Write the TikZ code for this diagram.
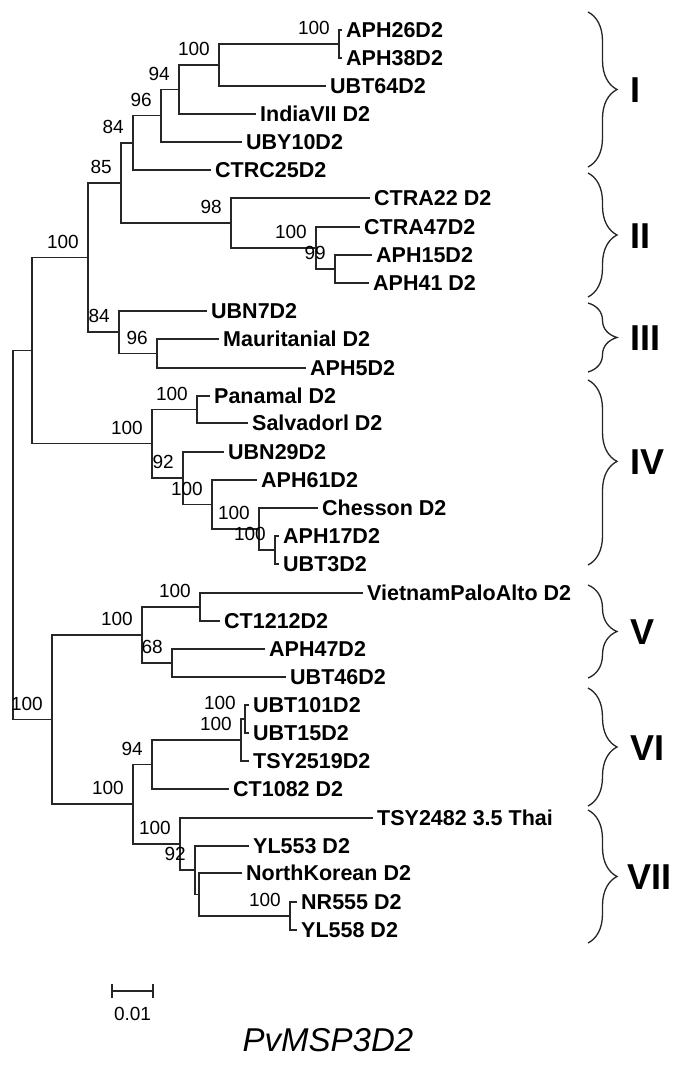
\documentclass[tikz,border=0pt]{standalone}
\usepackage{fontspec}
\setmainfont{Liberation Sans}
\usetikzlibrary{decorations.pathreplacing}
\begin{document}
\begin{tikzpicture}[x=1pt,y=-1pt,
  br/.style={line width=1.3pt, draw=black!85},
  leaf/.style={anchor=west, inner xsep=4pt, inner ysep=0pt, text height=15.5pt, text depth=0pt,
               font=\fontsize{21.5}{24}\selectfont\bfseries},
  bs/.style={anchor=east, inner sep=0pt, text height=13.6pt, text depth=0pt,
             font=\fontsize{19}{22}\selectfont},
  cladelab/.style={anchor=west, inner sep=0pt, text height=26pt, text depth=0pt,
             font=\fontsize{36}{40}\selectfont\bfseries},
  brc/.style={decorate, decoration={brace, amplitude=29pt}, line width=1.3pt, draw=black!85}]
\fill[white] (0,0) rectangle (673,1065);
\useasboundingbox (0,0) rectangle (673,1065);

% internal nodes
\coordinate (A) at (339,44);
\coordinate (B) at (219,65);
\coordinate (C) at (179,89.5);
\coordinate (D) at (161,115.75);
\coordinate (E) at (133,143);
\coordinate (J) at (335,269);
\coordinate (H) at (316,248);
\coordinate (G) at (231,223);
\coordinate (F) at (121,183);
\coordinate (M) at (157,353.5);
\coordinate (L) at (119,332);
\coordinate (K) at (88,257.5);
\coordinate (V) at (275,550);
\coordinate (U) at (259,529);
\coordinate (T) at (212,504.5);
\coordinate (S) at (183,478);
\coordinate (R) at (197,409.5);
\coordinate (Q) at (152,443.75);
\coordinate (P) at (32,350.6);
\coordinate (Y) at (200,607);
\coordinate (Z) at (172,663);
\coordinate (X) at (142,635);
\coordinate (AD) at (245,719);
\coordinate (AC) at (241,740);
\coordinate (AB) at (152,764.5);
\coordinate (AH) at (290,916);
\coordinate (AG) at (199,894.5);
\coordinate (AF) at (195,870);
\coordinate (AE) at (180,844);
\coordinate (AA) at (133,804);
\coordinate (W) at (52,719.5);
\coordinate (Root) at (13,535);

% leaves
\node[leaf] (l0) at (342,30) {APH26D2};
\node[leaf] (l1) at (342,58) {APH38D2};
\node[leaf] (l2) at (326,86) {UBT64D2};
\node[leaf] (l3) at (256,114) {IndiaVII D2};
\node[leaf] (l4) at (242,142) {UBY10D2};
\node[leaf] (l5) at (211,170) {CTRC25D2};
\node[leaf] (l6) at (370,198) {CTRA22 D2};
\node[leaf] (l7) at (360,227) {CTRA47D2};
\node[leaf] (l8) at (372,255) {APH15D2};
\node[leaf] (l9) at (369,283) {APH41 D2};
\node[leaf] (l10) at (207,311) {UBN7D2};
\node[leaf] (l11) at (219,339) {Mauritanial D2};
\node[leaf] (l12) at (306,368) {APH5D2};
\node[leaf] (l13) at (210,396) {Panamal D2};
\node[leaf] (l14) at (248,423) {Salvadorl D2};
\node[leaf] (l15) at (224,452) {UBN29D2};
\node[leaf] (l16) at (257,480) {APH61D2};
\node[leaf] (l17) at (318,508) {Chesson D2};
\node[leaf] (l18) at (279,536) {APH17D2};
\node[leaf] (l19) at (279,564) {UBT3D2};
\node[leaf] (l20) at (363,593) {VietnamPaloAlto D2};
\node[leaf] (l21) at (220,621) {CT1212D2};
\node[leaf] (l22) at (265,649) {APH47D2};
\node[leaf] (l23) at (286,677) {UBT46D2};
\node[leaf] (l24) at (249,705) {UBT101D2};
\node[leaf] (l25) at (249,733) {UBT15D2};
\node[leaf] (l26) at (249,761) {TSY2519D2};
\node[leaf] (l27) at (229,789) {CT1082 D2};
\node[leaf] (l28) at (373,818) {TSY2482 3.5 Thai};
\node[leaf] (l29) at (249,846) {YL553 D2};
\node[leaf] (l30) at (242,873) {NorthKorean D2};
\node[leaf] (l31) at (297,902) {NR555 D2};
\node[leaf] (l32) at (297,930) {YL558 D2};

% branches
\foreach \p/\c in {A/l0.west, A/l1.west, B/A, B/l2.west, C/B, C/l3.west, D/C, D/l4.west,
  E/D, E/l5.west, J/l8.west, J/l9.west, H/l7.west, H/J, G/l6.west, G/H, F/E, F/G,
  M/l11.west, M/l12.west, L/l10.west, L/M, K/F, K/L,
  V/l18.west, V/l19.west, U/l17.west, U/V, T/l16.west, T/U, S/l15.west, S/T,
  R/l13.west, R/l14.west, Q/R, Q/S, P/K, P/Q, Root/P, Root/W,
  Y/l20.west, Y/l21.west, Z/l22.west, Z/l23.west, X/Y, X/Z,
  AD/l24.west, AD/l25.west, AC/AD, AC/l26.west, AB/AC, AB/l27.west,
  AH/l31.west, AH/l32.west, AG/l30.west, AG/AH, AF/l29.west, AF/AG, AE/l28.west, AE/AF,
  AA/AB, AA/AE, W/X, W/AA}
  \draw[br] (\p) |- (\c);

% bootstrap values
\foreach \n/\v in {A/100, B/100, C/94, D/96, E/84, F/85, G/98, H/100, J/99, K/100,
  L/84, M/96, Q/100, R/100, S/92, T/100, U/100, V/100, W/100, X/100, Y/100, Z/68,
  AD/100, AC/100, AB/94, AA/100, AE/100, AF/92, AH/100}
  \node[bs] (b\n) at ([shift={(-9,-16)}]\n) {\v};

% clade braces
\draw[brc] (588,12) -- (588,167);
\draw[brc] (588,173) -- (588,297);
\draw[brc] (588,303) -- (588,372);
\draw[brc, decoration={aspect=0.44}] (588,380) -- (588,565);
\draw[brc] (588,585) -- (588,678);
\draw[brc] (588,688) -- (588,806);
\draw[brc] (588,810) -- (588,943);
\node[cladelab] (cI) at (630,89.5) {I};
\node[cladelab] (cII) at (630,235) {II};
\node[cladelab] (cIII) at (630,337.5) {III};
\node[cladelab] (cIV) at (630,461) {IV};
\node[cladelab] (cV) at (630,631.5) {V};
\node[cladelab] (cVI) at (630,747) {VI};
\node[cladelab] (cVII) at (627,876.5) {VII};

% scale bar
\coordinate (s1) at (112,991);
\coordinate (s2) at (153,991);
\draw[line width=1.3pt, draw=black!85] ([yshift=-7pt]s1) -- ([yshift=7pt]s1)
   (s1) -- (s2) ([yshift=-7pt]s2) -- ([yshift=7pt]s2);
\node[inner sep=0pt, font=\fontsize{19}{22}\selectfont] (sl) at (132.5,1014) {0.01};

% title
\node[inner sep=0pt, font=\fontsize{33}{36}\selectfont\itshape] (title) at (328,1040) {PvMSP3D2};
\end{tikzpicture}
\end{document}
